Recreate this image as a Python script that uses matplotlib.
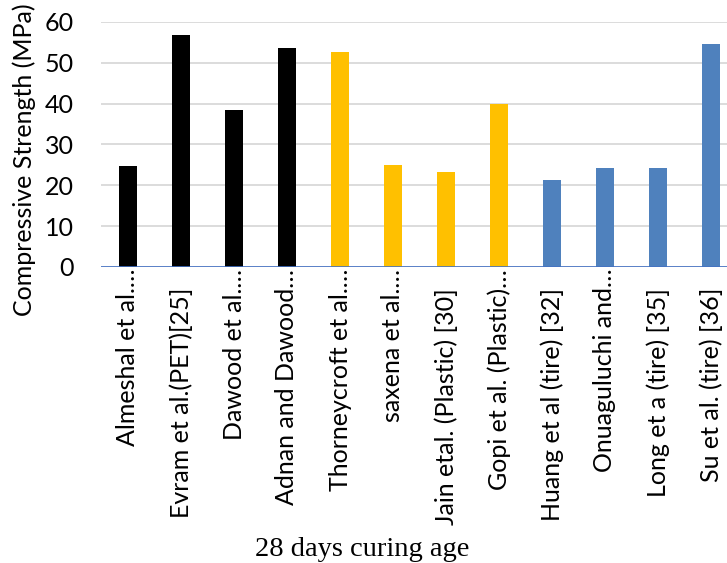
import matplotlib.pyplot as plt
from matplotlib.transforms import ScaledTranslation

labels = [
    "Almeshal et al.…",
    "Evram et al.(PET)[25]",
    "Dawood et al.…",
    "Adnan and Dawood…",
    "Thorneycroft et al.…",
    "saxena et al.…",
    "Jain etal. (Plastic) [30]",
    "Gopi et al. (Plastic)…",
    "Huang et al (tire) [32]",
    "Onuaguluchi and…",
    "Long et a (tire) [35]",
    "Su et al. (tire) [36]",
]
strength = [24.7, 56.9, 38.5, 53.7, 52.7, 25.0, 23.3, 40.0, 21.3, 24.2, 24.3, 54.6]
groups = ["PET", "PET", "PET", "PET",
          "Plastic", "Plastic", "Plastic", "Plastic",
          "tire", "tire", "tire", "tire"]

group_colors = {"PET": "#000000", "Plastic": "#FFC000", "tire": "#4F81BD"}
colors = [group_colors[g] for g in groups]

fig = plt.figure(figsize=(7.27, 5.63), dpi=100)
ax = fig.add_axes([101.5 / 727, 296 / 563, 636 / 727, 245 / 563])

x = range(len(labels))
ax.bar(x, strength, width=0.34, color=colors, zorder=3)

ax.set_ylim(0, 60)
ax.set_xlim(-0.5, len(labels) - 0.5)
ax.set_yticks(range(0, 61, 10))
ax.grid(axis="y", color="#d9d9d9", linewidth=1.3, zorder=0)
ax.axhline(0, color="#4472C4", linewidth=1.2, zorder=4)

for side in ["top", "right", "left", "bottom"]:
    ax.spines[side].set_visible(False)

ax.set_xticks(list(x))
ax.set_xticklabels(labels, rotation=90, fontsize=18, family="Lato",
                   va="top", ha="center")
ax.tick_params(axis="x", length=0, pad=15)
ax.tick_params(axis="y", length=0, pad=20, labelsize=18)
for t in ax.get_yticklabels():
    t.set_family("Lato")

# truncated labels sit higher, right under the axis line
lift = ScaledTranslation(0, 0.19, fig.dpi_scale_trans)
for t in ax.get_xticklabels():
    if t.get_text().endswith("…"):
        t.set_transform(t.get_transform() + lift)

fig.text(24 / 727, 1 - 160 / 563, "Compressive Strength (MPa)", rotation=90,
         fontsize=18, family="Lato", ha="center", va="center")
fig.text(362 / 727, 7 / 563, "28 days curing age", fontsize=20.5,
         family="Liberation Serif", ha="center", va="baseline")

fig.savefig("out.png", dpi=100)
